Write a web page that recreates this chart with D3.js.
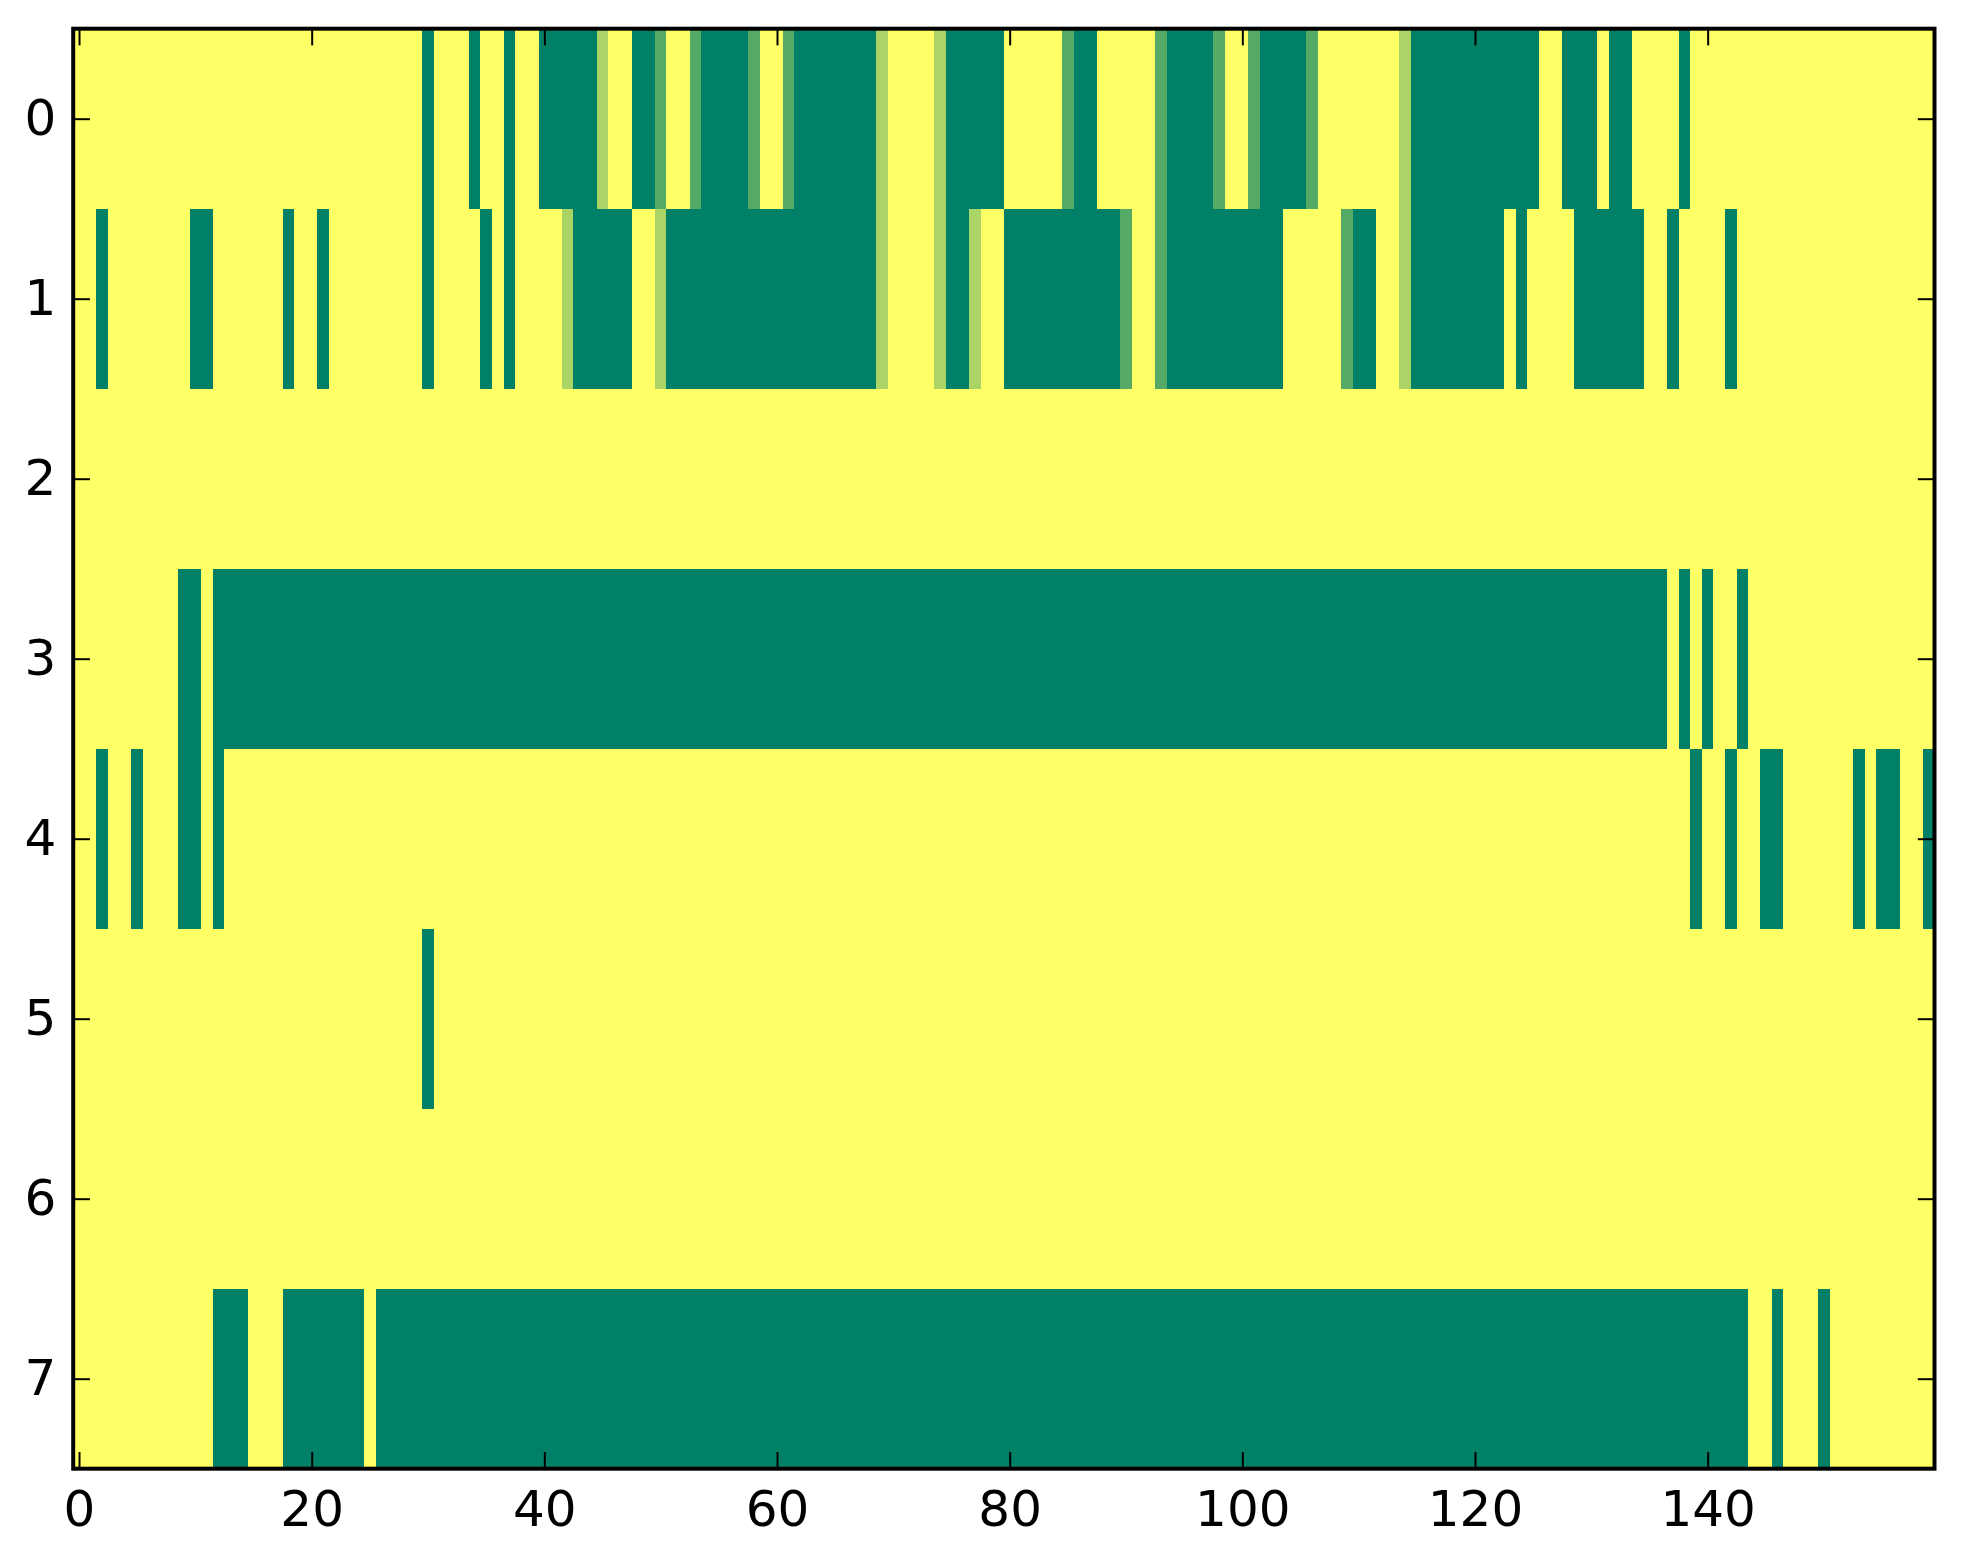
<!DOCTYPE html>
<html>
<head>
<meta charset="utf-8">
<script src="https://cdn.jsdelivr.net/npm/d3@7/dist/d3.min.js"></script>
<style>
html, body { margin: 0; padding: 0; background: #ffffff; }
svg { display: block; }
</style>
</head>
<body>
<svg id="chart" width="1963" height="1564"></svg>
<script>
// ---------------- data (0..3, summer colormap) ----------------
const rowLabels = [0, 1, 2, 3, 4, 5, 6, 7];
const xTickValues = [0, 20, 40, 60, 80, 100, 120, 140];
const valueMin = 0;
const valueMax = 3;

const row0 = [
  3,3,3,3,3,3,3,3,3,3,
  3,3,3,3,3,3,3,3,3,3,
  3,3,3,3,3,3,3,3,3,3,
  0,3,3,3,0,3,3,0,3,3,
  0,0,0,0,0,2,3,3,0,0,
  1,3,3,1,0,0,0,0,1,3,
  3,1,0,0,0,0,0,0,0,2,
  3,3,3,3,2,0,0,0,0,0,
  3,3,3,3,3,1,0,0,3,3,
  3,3,3,1,0,0,0,0,1,3,
  3,1,0,0,0,0,1,3,3,3,
  3,3,3,3,2,0,0,0,0,0,
  0,0,0,0,0,0,3,3,0,0,
  0,3,0,0,3,3,3,3,0,3,
  3,3,3,3,3,3,3,3,3,3,
  3,3,3,3,3,3,3,3,3,3
];
const row1 = [
  3,3,0,3,3,3,3,3,3,3,
  0,0,3,3,3,3,3,3,0,3,
  3,0,3,3,3,3,3,3,3,3,
  0,3,3,3,3,0,3,0,3,3,
  3,3,2,0,0,0,0,0,3,3,
  2,0,0,0,0,0,0,0,0,0,
  0,0,0,0,0,0,0,0,0,2,
  3,3,3,3,2,0,0,2,3,3,
  0,0,0,0,0,0,0,0,0,0,
  1,3,3,1,0,0,0,0,0,0,
  0,0,0,0,3,3,3,3,3,1,
  0,0,3,3,2,0,0,0,0,0,
  0,0,0,3,0,3,3,3,3,0,
  0,0,0,0,0,3,3,0,3,3,
  3,3,0,3,3,3,3,3,3,3,
  3,3,3,3,3,3,3,3,3,3
];
const row2 = [
  3,3,3,3,3,3,3,3,3,3,
  3,3,3,3,3,3,3,3,3,3,
  3,3,3,3,3,3,3,3,3,3,
  3,3,3,3,3,3,3,3,3,3,
  3,3,3,3,3,3,3,3,3,3,
  3,3,3,3,3,3,3,3,3,3,
  3,3,3,3,3,3,3,3,3,3,
  3,3,3,3,3,3,3,3,3,3,
  3,3,3,3,3,3,3,3,3,3,
  3,3,3,3,3,3,3,3,3,3,
  3,3,3,3,3,3,3,3,3,3,
  3,3,3,3,3,3,3,3,3,3,
  3,3,3,3,3,3,3,3,3,3,
  3,3,3,3,3,3,3,3,3,3,
  3,3,3,3,3,3,3,3,3,3,
  3,3,3,3,3,3,3,3,3,3
];
const row3 = [
  3,3,3,3,3,3,3,3,3,0,
  0,3,0,0,0,0,0,0,0,0,
  0,0,0,0,0,0,0,0,0,0,
  0,0,0,0,0,0,0,0,0,0,
  0,0,0,0,0,0,0,0,0,0,
  0,0,0,0,0,0,0,0,0,0,
  0,0,0,0,0,0,0,0,0,0,
  0,0,0,0,0,0,0,0,0,0,
  0,0,0,0,0,0,0,0,0,0,
  0,0,0,0,0,0,0,0,0,0,
  0,0,0,0,0,0,0,0,0,0,
  0,0,0,0,0,0,0,0,0,0,
  0,0,0,0,0,0,0,0,0,0,
  0,0,0,0,0,0,0,3,0,3,
  0,3,3,0,3,3,3,3,3,3,
  3,3,3,3,3,3,3,3,3,3
];
const row4 = [
  3,3,0,3,3,0,3,3,3,0,
  0,3,0,3,3,3,3,3,3,3,
  3,3,3,3,3,3,3,3,3,3,
  3,3,3,3,3,3,3,3,3,3,
  3,3,3,3,3,3,3,3,3,3,
  3,3,3,3,3,3,3,3,3,3,
  3,3,3,3,3,3,3,3,3,3,
  3,3,3,3,3,3,3,3,3,3,
  3,3,3,3,3,3,3,3,3,3,
  3,3,3,3,3,3,3,3,3,3,
  3,3,3,3,3,3,3,3,3,3,
  3,3,3,3,3,3,3,3,3,3,
  3,3,3,3,3,3,3,3,3,3,
  3,3,3,3,3,3,3,3,3,0,
  3,3,0,3,3,0,0,3,3,3,
  3,3,3,0,3,0,0,3,3,0
];
const row5 = [
  3,3,3,3,3,3,3,3,3,3,
  3,3,3,3,3,3,3,3,3,3,
  3,3,3,3,3,3,3,3,3,3,
  0,3,3,3,3,3,3,3,3,3,
  3,3,3,3,3,3,3,3,3,3,
  3,3,3,3,3,3,3,3,3,3,
  3,3,3,3,3,3,3,3,3,3,
  3,3,3,3,3,3,3,3,3,3,
  3,3,3,3,3,3,3,3,3,3,
  3,3,3,3,3,3,3,3,3,3,
  3,3,3,3,3,3,3,3,3,3,
  3,3,3,3,3,3,3,3,3,3,
  3,3,3,3,3,3,3,3,3,3,
  3,3,3,3,3,3,3,3,3,3,
  3,3,3,3,3,3,3,3,3,3,
  3,3,3,3,3,3,3,3,3,3
];
const row6 = [
  3,3,3,3,3,3,3,3,3,3,
  3,3,3,3,3,3,3,3,3,3,
  3,3,3,3,3,3,3,3,3,3,
  3,3,3,3,3,3,3,3,3,3,
  3,3,3,3,3,3,3,3,3,3,
  3,3,3,3,3,3,3,3,3,3,
  3,3,3,3,3,3,3,3,3,3,
  3,3,3,3,3,3,3,3,3,3,
  3,3,3,3,3,3,3,3,3,3,
  3,3,3,3,3,3,3,3,3,3,
  3,3,3,3,3,3,3,3,3,3,
  3,3,3,3,3,3,3,3,3,3,
  3,3,3,3,3,3,3,3,3,3,
  3,3,3,3,3,3,3,3,3,3,
  3,3,3,3,3,3,3,3,3,3,
  3,3,3,3,3,3,3,3,3,3
];
const row7 = [
  3,3,3,3,3,3,3,3,3,3,
  3,3,0,0,0,3,3,3,0,0,
  0,0,0,0,0,3,0,0,0,0,
  0,0,0,0,0,0,0,0,0,0,
  0,0,0,0,0,0,0,0,0,0,
  0,0,0,0,0,0,0,0,0,0,
  0,0,0,0,0,0,0,0,0,0,
  0,0,0,0,0,0,0,0,0,0,
  0,0,0,0,0,0,0,0,0,0,
  0,0,0,0,0,0,0,0,0,0,
  0,0,0,0,0,0,0,0,0,0,
  0,0,0,0,0,0,0,0,0,0,
  0,0,0,0,0,0,0,0,0,0,
  0,0,0,0,0,0,0,0,0,0,
  0,0,0,0,3,3,0,3,3,3,
  0,3,3,3,3,3,3,3,3,3
];

const rows = [row0, row1, row2, row3, row4, row5, row6, row7];
const nCols = row0.length;

// ---------------- layout ----------------
const plotLeft = 73.2, plotRight = 1934.5, plotTop = 28.7, plotBottom = 1468.7;
const fontSize = 50;
const tickLen = 16.7;

const svg = d3.select("#chart");
svg.append("rect").attr("width", 1963).attr("height", 1564).attr("fill", "#ffffff");

const x = d3.scaleLinear().domain([-0.5, nCols - 0.5]).range([plotLeft, plotRight]);
const y = d3.scaleLinear().domain([-0.5, rows.length - 0.5]).range([plotTop, plotBottom]);

// matplotlib "summer" colormap: r = t, g = 0.5 + t/2, b = 0.4
const norm = d3.scaleLinear().domain([valueMin, valueMax]).range([0, 1]).clamp(true);
const summer = t => d3.rgb(Math.round(255 * t), Math.round(255 * (0.5 + 0.5 * t)), Math.round(255 * 0.4)).formatHex();
const color = v => summer(norm(v));

const cells = [];
rows.forEach((r, ri) => r.forEach((v, ci) => cells.push({ r: ri, c: ci, v })));

svg.append("g")
  .attr("shape-rendering", "crispEdges")
  .selectAll("rect")
  .data(cells)
  .join("rect")
  .attr("x", d => x(d.c - 0.5))
  .attr("y", d => y(d.r - 0.5))
  .attr("width", d => x(d.c + 0.5) - x(d.c - 0.5) + 0.3)
  .attr("height", d => y(d.r + 0.5) - y(d.r - 0.5) + 0.3)
  .attr("fill", d => color(d.v));

// ---------------- axes ----------------
function styleAxis(g, showText) {
  g.select(".domain").remove();
  g.selectAll(".tick line").attr("stroke", "#000").attr("stroke-width", 2);
  g.selectAll(".tick text")
    .attr("fill", "#000")
    .style("font-family", "'DejaVu Sans', sans-serif")
    .style("font-size", fontSize + "px");
  if (!showText) g.selectAll(".tick text").remove();
}

svg.append("g")
  .attr("transform", `translate(0,${plotBottom})`)
  .call(d3.axisBottom(x).tickValues(xTickValues).tickFormat(d3.format("d"))
    .tickSizeInner(-tickLen).tickSizeOuter(0).tickPadding(22))
  .call(g => styleAxis(g, true));

svg.append("g")
  .attr("transform", `translate(0,${plotTop})`)
  .call(d3.axisTop(x).tickValues(xTickValues).tickSizeInner(-tickLen).tickSizeOuter(0))
  .call(g => styleAxis(g, false));

svg.append("g")
  .attr("transform", `translate(${plotLeft},0)`)
  .call(d3.axisLeft(y).tickValues(rowLabels).tickFormat(d3.format("d"))
    .tickSizeInner(-tickLen).tickSizeOuter(0).tickPadding(17))
  .call(g => styleAxis(g, true));

svg.append("g")
  .attr("transform", `translate(${plotRight},0)`)
  .call(d3.axisRight(y).tickValues(rowLabels).tickSizeInner(-tickLen).tickSizeOuter(0))
  .call(g => styleAxis(g, false));

// frame
svg.append("rect")
  .attr("x", plotLeft).attr("y", plotTop)
  .attr("width", plotRight - plotLeft).attr("height", plotBottom - plotTop)
  .attr("fill", "none").attr("stroke", "#000").attr("stroke-width", 4);
</script>
</body>
</html>
